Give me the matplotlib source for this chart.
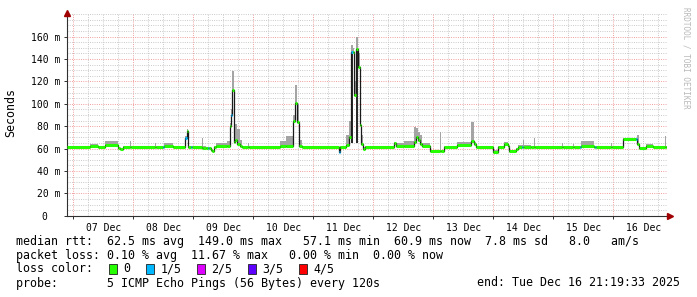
import matplotlib
matplotlib.use("Agg")
import matplotlib.pyplot as plt
import numpy as np
from matplotlib.ticker import MultipleLocator, FixedLocator, FuncFormatter, NullFormatter
from matplotlib.patches import Rectangle

# ---------------- data ----------------
day_labels = ["07 Dec", "08 Dec", "09 Dec", "10 Dec", "11 Dec",
              "12 Dec", "13 Dec", "14 Dec", "15 Dec", "16 Dec"]
y_ticks = [0, 20, 40, 60, 80, 100, 120, 140, 160]
y_tick_labels = ["0  ", "20 m", "40 m", "60 m", "80 m", "100 m", "120 m", "140 m", "160 m"]

# hours since 07 Dec 00:00 at which each step starts
hours = [-2.4, 6.6, 9.8, 12.6, 17.8, 18.6, 19.8, 22.6, 23.0, 32.8,
         33.2, 35.8, 36.2, 39.8, 44.8, 45.4, 46.0, 47.2, 47.6, 51.4,
         51.8, 53.0, 53.8, 54.2, 55.0, 55.6, 56.2, 57.0, 61.4, 62.6,
         63.0, 63.4, 64.2, 64.6, 65.4, 66.6, 67.4, 69.8, 70.2, 82.6,
         85.0, 88.0, 88.8, 89.6, 90.2, 91.6, 106.2, 106.6, 109.0, 110.4,
         111.2, 111.8, 112.4, 113.2, 114.0, 114.6, 115.2, 115.8, 116.6, 128.2,
         129.0, 132.2, 136.2, 137.0, 137.8, 138.6, 139.4, 142.6, 146.6, 147.0,
         148.2, 153.4, 159.0, 160.2, 161.0, 167.8, 169.8, 172.2, 173.8, 174.2,
         177.0, 177.8, 179.6, 180.0, 180.4, 183.0, 184.2, 184.6, 195.6, 196.0,
         199.8, 200.2, 202.8, 203.2, 208.2, 208.8, 209.2, 215.0, 215.4, 220.0,
         225.2, 225.6, 226.4, 229.0, 231.8, 236.8, 237.2]
# median rtt (ms) per step
median_ms = [61.2, 62.5, 61.3, 63.5, 60.5, 59.5, 61.2, 61.2, 61.2, 61.2,
             61.2, 61.2, 62.5, 61.2, 69.5, 76.0, 61.2, 61.2, 61.2, 60.8,
             60.8, 60.2, 60.2, 60.2, 59.0, 57.8, 61.2, 62.5, 62.5, 80.0,
             90.0, 112.0, 66.0, 68.0, 64.0, 62.0, 61.2, 61.2, 61.2, 62.0,
             62.5, 85.0, 101.0, 84.0, 62.5, 61.2, 57.1, 61.2, 63.0, 70.0,
             146.0, 146.0, 108.0, 149.0, 133.0, 81.0, 64.0, 59.5, 61.2, 64.5,
             62.5, 62.5, 66.0, 70.0, 67.5, 64.0, 62.3, 57.5, 57.5, 57.5,
             61.2, 63.5, 67.0, 64.0, 61.2, 57.3, 61.5, 64.0, 62.0, 57.5,
             59.3, 61.5, 61.5, 61.5, 61.5, 61.2, 61.2, 61.2, 61.2, 61.2,
             61.2, 61.2, 61.2, 62.5, 61.2, 61.2, 61.2, 61.2, 61.2, 68.3,
             68.3, 64.0, 60.2, 62.0, 61.0, 61.0, 61.0]
# highest ping of each step (top of the smoke), ms
smoke_max_ms = [62.0, 64.4, 62.0, 66.5, 61.5, 60.5, 62.0, 66.8, 62.0, 65.0,
                62.0, 62.0, 65.0, 62.0, 71.0, 77.0, 62.0, 62.0, 62.0, 69.0,
                62.0, 61.0, 61.0, 61.0, 60.0, 59.0, 62.0, 64.5, 67.0, 83.0,
                95.0, 129.0, 92.0, 82.0, 77.0, 68.0, 62.0, 64.5, 62.0, 67.0,
                71.0, 90.0, 117.0, 100.0, 68.0, 62.0, 59.0, 62.0, 72.0, 85.0,
                152.0, 150.0, 120.0, 160.0, 145.0, 95.0, 72.0, 61.0, 62.0, 66.0,
                64.7, 67.0, 79.0, 78.0, 75.0, 72.0, 64.5, 58.5, 74.5, 58.5,
                62.0, 66.0, 84.0, 66.0, 62.0, 58.5, 62.5, 66.0, 63.0, 58.5,
                60.5, 63.0, 63.0, 67.6, 63.0, 62.0, 69.0, 62.0, 64.5, 62.0,
                64.0, 62.0, 62.0, 66.5, 62.0, 62.0, 62.0, 64.5, 62.0, 69.5,
                69.5, 72.0, 61.0, 64.0, 62.0, 71.0, 62.0]
# lost pings per step (index into loss colours)
loss = [0, 0, 0, 0, 0, 0, 0, 0, 0, 0,
        0, 1, 0, 0, 1, 0, 0, 1, 0, 0,
        0, 0, 1, 0, 0, 0, 0, 0, 0, 0,
        1, 0, 0, 0, 0, 0, 0, 0, 0, 0,
        0, 0, 0, 0, 0, 0, 1, 0, 0, 0,
        1, 0, 0, 0, 0, 0, 0, 0, 0, 0,
        0, 0, 0, 0, 0, 0, 0, 0, 0, 0,
        0, 0, 0, 0, 0, 0, 0, 0, 0, 0,
        0, 0, 1, 0, 0, 0, 0, 0, 0, 0,
        0, 0, 1, 0, 0, 1, 0, 0, 0, 0,
        1, 0, 0, 0, 0, 0, 0]
end_hour = 237.33
start_hour = end_hour - 240.0
normal_ms = 62.0   # typical rtt; dense smoke of the tallest spikes drawn from here

loss_colors = ["#26ff00", "#00b8ff", "#dd00ff", "#5e00ff", "#ff0000"]
loss_labels = ["0", "1/5", "2/5", "3/5", "4/5"]

legend_lines = [
    "median rtt:  62.5 ms avg  149.0 ms max   57.1 ms min  60.9 ms now  7.8 ms sd   8.0   am/s",
    "packet loss: 0.10 % avg  11.67 % max   0.00 % min  0.00 % now",
    "loss color:",
    "probe:       5 ICMP Echo Pings (56 Bytes) every 120s",
]
end_text = "end: Tue Dec 16 21:19:33 2025"

# ---------------- figure ----------------
W, H = 697, 297
fig = plt.figure(figsize=(W / 100, H / 100), dpi=100)
fig.patch.set_facecolor("white")
MONO = "DejaVu Sans Mono"
FS = 8.4

ax_left, ax_right, ax_bottom, ax_top = 66.7, 666.7, 215.7, 13.0
ax = fig.add_axes([ax_left / W, 1 - ax_bottom / H,
                   (ax_right - ax_left) / W, (ax_bottom - ax_top) / H])
ax.set_facecolor("white")

t = np.array(hours + [end_hour])
med = np.array(median_ms + [median_ms[-1]])
hi = np.array(smoke_max_ms + [smoke_max_ms[-1]])

ax.fill_between(t, med, hi, step="post", color="#a4a4a4", lw=0, zorder=2)
ax.fill_between(t, normal_ms + 3, med, where=med > 120, step="post",
                color="#2a2a2a", lw=0, zorder=2.5)
ax.step(t, med, where="post", color="#1a1a1a", lw=0.9, zorder=3)
for i in range(len(median_ms)):
    ax.hlines(median_ms[i], t[i], t[i + 1], color=loss_colors[loss[i]],
              lw=2.2, zorder=4, capstyle="butt")

ax.set_xlim(start_hour, end_hour)
ax.set_ylim(0, 181)

# grid
ax.xaxis.set_major_locator(MultipleLocator(24))
ax.xaxis.set_minor_locator(MultipleLocator(6))
ax.yaxis.set_major_locator(FixedLocator(y_ticks))
ax.yaxis.set_minor_locator(MultipleLocator(5))
ax.set_yticklabels(y_tick_labels)

def xfmt(v, pos):
    d = int(round(v - 12)) // 24
    if abs((v - 12) - 24 * d) < 0.01 and 0 <= d < len(day_labels):
        return day_labels[d]
    return ""

ax.xaxis.set_major_formatter(NullFormatter())
ax.xaxis.set_minor_formatter(FuncFormatter(xfmt))

ax.grid(which="minor", color="#c2c2c2", lw=0.65, ls=(0, (1, 1.5)), zorder=1)
ax.grid(which="major", color="#f09090", lw=0.65, ls=(0, (1, 1.5)), zorder=1)
ax.set_axisbelow(True)

for s in ["top", "right"]:
    ax.spines[s].set_visible(False)
for s in ["left", "bottom"]:
    ax.spines[s].set_color("#303030")
    ax.spines[s].set_linewidth(0.8)

ax.tick_params(axis="y", which="major", length=2.5, width=0.7, pad=2.3,
               labelsize=7, colors="#303030", labelcolor="black")
ax.tick_params(axis="y", which="minor", length=0)
ax.tick_params(axis="x", which="major", length=2.5, width=0.7, colors="#303030")
ax.tick_params(axis="x", which="minor", length=0, pad=5, labelsize=7, labelcolor="black")
for lab in ax.get_xticklabels(minor=True) + ax.get_yticklabels():
    lab.set_family(MONO)

# axis arrows
ax.plot([0], [1.0], marker="^", ms=4.5, color="#a00000", transform=ax.transAxes,
        clip_on=False, zorder=6)
ax.plot([1.005], [0], marker=">", ms=4.5, color="#a00000", transform=ax.transAxes,
        clip_on=False, zorder=6)

fig.text(11 / W, 1 - 113 / H, "Seconds", rotation=90, family=MONO, fontsize=FS,
         ha="center", va="center")
fig.text(686 / W, 1 - 58 / H, "RRDTOOL / TOBI OETIKER", rotation=270, family=MONO,
         fontsize=5.5, color="#b8b8b8", ha="center", va="center")

line_y = [241, 255, 269, 283]
for txt, yy in zip(legend_lines, line_y):
    fig.text(16 / W, 1 - yy / H, txt, family=MONO, fontsize=FS, ha="left", va="center")
fig.text(680 / W, 1 - line_y[3] / H, end_text, family=MONO, fontsize=FS,
         ha="right", va="center")

box_x = [109, 146, 197, 248, 299]
for bx, col, lab in zip(box_x, loss_colors, loss_labels):
    fig.patches.append(Rectangle((bx / W, 1 - (line_y[2] + 5) / H), 8 / W, 10 / H,
                                 transform=fig.transFigure, facecolor=col,
                                 edgecolor="#202020", lw=0.6))
    fig.text((bx + 14.5) / W, 1 - line_y[2] / H, lab, family=MONO, fontsize=FS,
             ha="left", va="center")

fig.savefig("out.png", dpi=100, facecolor="white")
